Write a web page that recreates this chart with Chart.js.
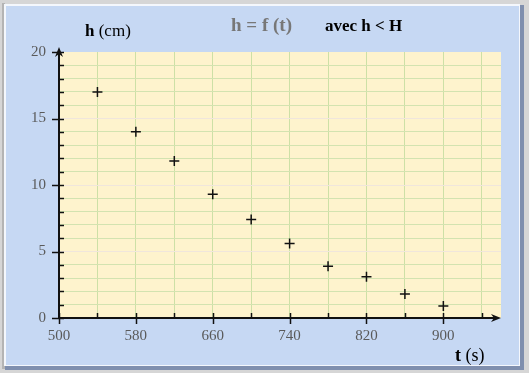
<!DOCTYPE html>
<html>
<head>
<meta charset="utf-8">
<script src="https://cdn.jsdelivr.net/npm/chart.js@4"></script>
<style>
  html, body { margin: 0; padding: 0; background: #d6d6d6; }
  #wrap { width: 529px; height: 373px; position: relative; }
</style>
</head>
<body>
<div id="wrap"><canvas id="chart" width="529" height="373"></canvas></div>
<script>
// data
const times = [540, 580, 620, 660, 700, 740, 780, 820, 860, 900];
const heights = [17.0, 14.0, 11.8, 9.3, 7.4, 5.6, 3.9, 3.1, 1.8, 0.9];
const xTicks = [500, 540, 580, 620, 660, 700, 740, 780, 820, 860, 900, 940];
const xLabelStep = 80;   // 500, 580, 660 ...
const yLabelStep = 5;    // 0, 5, 10 ...

const serif = '"Liberation Serif", "Times New Roman", serif';

// backgrounds, axes with arrows, ticks and the texts
const decor = {
  id: 'decor',
  beforeDraw(chart) {
    const ctx = chart.ctx;
    const a = chart.chartArea;
    ctx.save();
    ctx.fillStyle = '#d6d6d6';
    ctx.fillRect(0, 0, 529, 373);
    ctx.fillStyle = '#b4b4b4';
    ctx.fillRect(2, 3, 3, 366);
    // panel with a shadowed edge
    ctx.fillStyle = '#7f8fae';
    ctx.fillRect(5, 5, 519, 365);
    ctx.fillStyle = '#f4f7fc';
    ctx.fillRect(4, 4, 516, 362);
    ctx.fillStyle = '#c6d8f3';
    ctx.fillRect(6, 6, 513, 359);
    // plot area
    ctx.fillStyle = '#fef3cd';
    ctx.fillRect(a.left, a.top, a.right - a.left, a.bottom - a.top);
    ctx.restore();
  },
  afterDatasetsDraw(chart) {
    const ctx = chart.ctx;
    const a = chart.chartArea;
    const xs = chart.scales.x, ys = chart.scales.y;
    ctx.save();
    ctx.strokeStyle = '#111';
    ctx.fillStyle = '#111';
    ctx.lineWidth = 2;
    // x axis
    ctx.beginPath();
    ctx.moveTo(a.left, a.bottom);
    ctx.lineTo(a.right - 4, a.bottom);
    ctx.stroke();
    ctx.beginPath();
    ctx.moveTo(a.right, a.bottom);
    ctx.lineTo(a.right - 10, a.bottom - 4);
    ctx.lineTo(a.right - 7, a.bottom);
    ctx.lineTo(a.right - 10, a.bottom + 4);
    ctx.closePath();
    ctx.fill();
    // y axis
    ctx.beginPath();
    ctx.moveTo(a.left, a.bottom);
    ctx.lineTo(a.left, a.top - 2);
    ctx.stroke();
    ctx.beginPath();
    ctx.moveTo(a.left, a.top - 5);
    ctx.lineTo(a.left - 4, a.top + 5);
    ctx.lineTo(a.left, a.top + 2);
    ctx.lineTo(a.left + 4, a.top + 5);
    ctx.closePath();
    ctx.fill();
    // tick marks
    ctx.lineWidth = 1.5;
    xs.ticks.forEach(t => {
      const x = Math.round(xs.getPixelForValue(t.value)) + 0.5;
      const major = (t.value - 500) % xLabelStep === 0;
      ctx.beginPath();
      ctx.moveTo(x, a.bottom - 5);
      ctx.lineTo(x, major ? a.bottom + 6 : a.bottom);
      ctx.stroke();
    });
    ys.ticks.forEach(t => {
      const y = Math.round(ys.getPixelForValue(t.value)) + 0.5;
      const major = t.value % yLabelStep === 0;
      ctx.beginPath();
      ctx.moveTo(major ? a.left - 7 : a.left, y);
      ctx.lineTo(a.left + 5, y);
      ctx.stroke();
    });
    ctx.restore();
  },
  afterDraw(chart) {
    const ctx = chart.ctx;
    ctx.save();
    ctx.textBaseline = 'alphabetic';
    // title
    ctx.fillStyle = '#777';
    ctx.font = 'bold 19px ' + serif;
    ctx.fillText('h = f (t)', 231, 31);
    ctx.fillStyle = '#000';
    ctx.font = 'bold 17px ' + serif;
    ctx.fillText('avec h < H', 325, 31);
    // y axis title
    ctx.font = 'bold 17px ' + serif;
    ctx.fillText('h', 85, 36);
    let w = ctx.measureText('h ').width;
    ctx.font = '17px ' + serif;
    ctx.fillText('(cm)', 85 + w, 36);
    // x axis title
    ctx.font = 'bold 18px ' + serif;
    ctx.fillText('t', 455, 361);
    w = ctx.measureText('t ').width;
    ctx.font = '18px ' + serif;
    ctx.fillText('(s)', 455 + w, 361);
    ctx.restore();
  }
};

new Chart(document.getElementById('chart'), {
  type: 'scatter',
  data: {
    datasets: [{
      data: times.map((t, i) => ({ x: t, y: heights[i] })),
      pointStyle: 'cross',
      pointRadius: 5,
      pointHoverRadius: 5,
      borderColor: '#111',
      backgroundColor: '#111',
      pointBorderWidth: 1.5
    }]
  },
  options: {
    responsive: false,
    animation: false,
    events: [],
    layout: { padding: { top: 52, right: 28, left: 0, bottom: 0 } },
    plugins: { legend: { display: false }, tooltip: { enabled: false } },
    scales: {
      x: {
        type: 'linear',
        min: 500,
        max: 960,
        afterBuildTicks: s => { s.ticks = xTicks.map(v => ({ value: v })); },
        afterFit: s => { s.height = 55; },
        border: { display: false },
        grid: {
          drawTicks: false,
          color: c => (c.tick && c.tick.value === 500) ? 'rgba(0,0,0,0)' : '#cde0a6',
          lineWidth: 1
        },
        ticks: {
          autoSkip: false,
          maxRotation: 0,
          padding: 9,
          color: '#5a5a5a',
          font: { family: serif, size: 15 },
          callback: v => ((v - 500) % xLabelStep === 0 ? String(v) : '')
        }
      },
      y: {
        type: 'linear',
        min: 0,
        max: 20,
        afterFit: s => { s.width = 59; },
        border: { display: false },
        grid: {
          drawTicks: false,
          color: c => {
            const v = c.tick ? c.tick.value : 0;
            if (v === 0 || v === 20) return 'rgba(0,0,0,0)';
            return v % yLabelStep === 0 ? '#f0e6dc' : '#d3e3b0';
          },
          lineWidth: 1
        },
        ticks: {
          stepSize: 1,
          autoSkip: false,
          padding: 13,
          color: '#5a5a5a',
          font: { family: serif, size: 15 },
          callback: v => (v % yLabelStep === 0 ? String(v) : '')
        }
      }
    }
  },
  plugins: [decor]
});
</script>
</body>
</html>
